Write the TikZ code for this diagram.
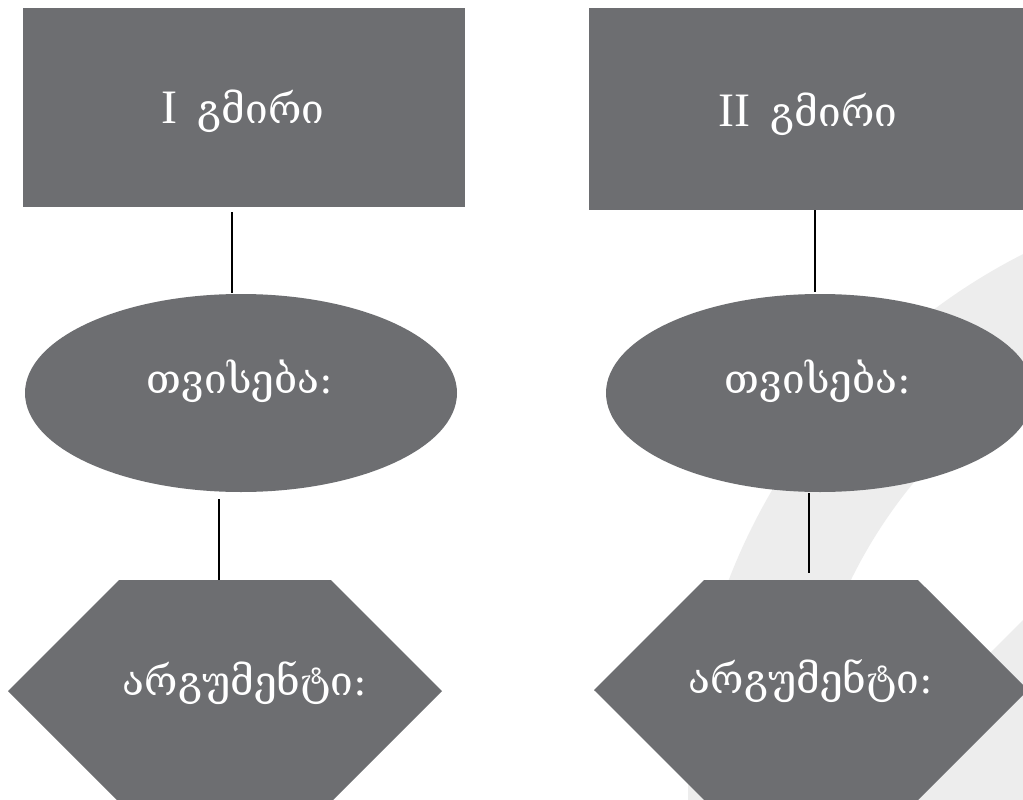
\documentclass[tikz,border=0pt]{standalone}
\usepackage{fontspec}
\usetikzlibrary{shapes.geometric,shapes.symbols}
\newfontfamily\geo{DejaVu Serif}
\newfontfamily\romfont{Liberation Serif}
\definecolor{boxgray}{HTML}{6D6E71}
\definecolor{wmgray}{HTML}{EDEDED}
\tikzset{
  boxshape/.style={rectangle, fill=boxgray, inner sep=0pt, outer sep=0pt},
  ovalshape/.style={ellipse, fill=boxgray, inner sep=0pt, outer sep=0pt},
  hexshape/.style={signal, signal to=east and west, signal pointer angle=90, fill=boxgray, inner sep=0pt, outer sep=0pt},
  lbl/.style={text=white, inner sep=0pt, anchor=base, font=\geo\fontsize{40.5}{46}\selectfont},
  conn/.style={draw=black, line width=1.8pt},
}
\newcommand{\romn}[1]{{\romfont\fontsize{48}{52}\selectfont #1}}
\begin{document}
\begin{tikzpicture}[x=1pt,y=-1pt]
\useasboundingbox (0,0) rectangle (1023,800);
\fill[white] (0,0) rectangle (1023,800);
% watermark
\begin{scope}
\clip (0,0) rectangle (1023,800);
\fill[wmgray, even odd rule] (1300,800) circle (612) (1300,800) circle (500);
\fill[wmgray] (1023,620) -- (843,800) -- (1023,800) -- cycle;
\end{scope}
% shapes
\node[boxshape, minimum width=442pt, minimum height=199pt] (r1) at (244,107.5) {};
\node[boxshape, minimum width=442pt, minimum height=202pt] (r2) at (810,109) {};
\node[ovalshape, minimum width=432pt, minimum height=198pt] (e1) at (241,393) {};
\node[ovalshape, minimum width=428pt, minimum height=198pt] (e2) at (820,393) {};
\node[hexshape, minimum width=434pt, minimum height=222pt] (h1) at (225,691) {};
\node[hexshape, minimum width=434pt, minimum height=220pt] (h2) at (811,690) {};
% labels
\node[lbl] (t1) at (243,123) {\romn{I}\hspace{0.5em}გმირი};
\node[lbl] (t2) at (808,126) {\romn{II}\hspace{0.5em}გმირი};
\node[lbl] (t3) at (240,393) {თვისება:};
\node[lbl] (t4) at (818,393) {თვისება:};
\node[lbl] (t5) at (245,695) {არგუმენტი:};
\node[lbl] (t6) at (811,693) {არგუმენტი:};
% connectors
\draw[conn] ([xshift=-12pt,yshift=-5pt]r1.south) -- ([xshift=-9pt,yshift=1pt]e1.north);
\draw[conn] ([xshift=-22pt,yshift=-7pt]e1.south) -- ([xshift=-6pt]h1.north);
\draw[conn] ([xshift=5pt]r2.south) -- ([xshift=-5pt,yshift=2pt]e2.north);
\draw[conn] ([xshift=-11pt,yshift=-1pt]e2.south) -- ([xshift=-2pt,yshift=7pt]h2.north);
\end{tikzpicture}
\end{document}
